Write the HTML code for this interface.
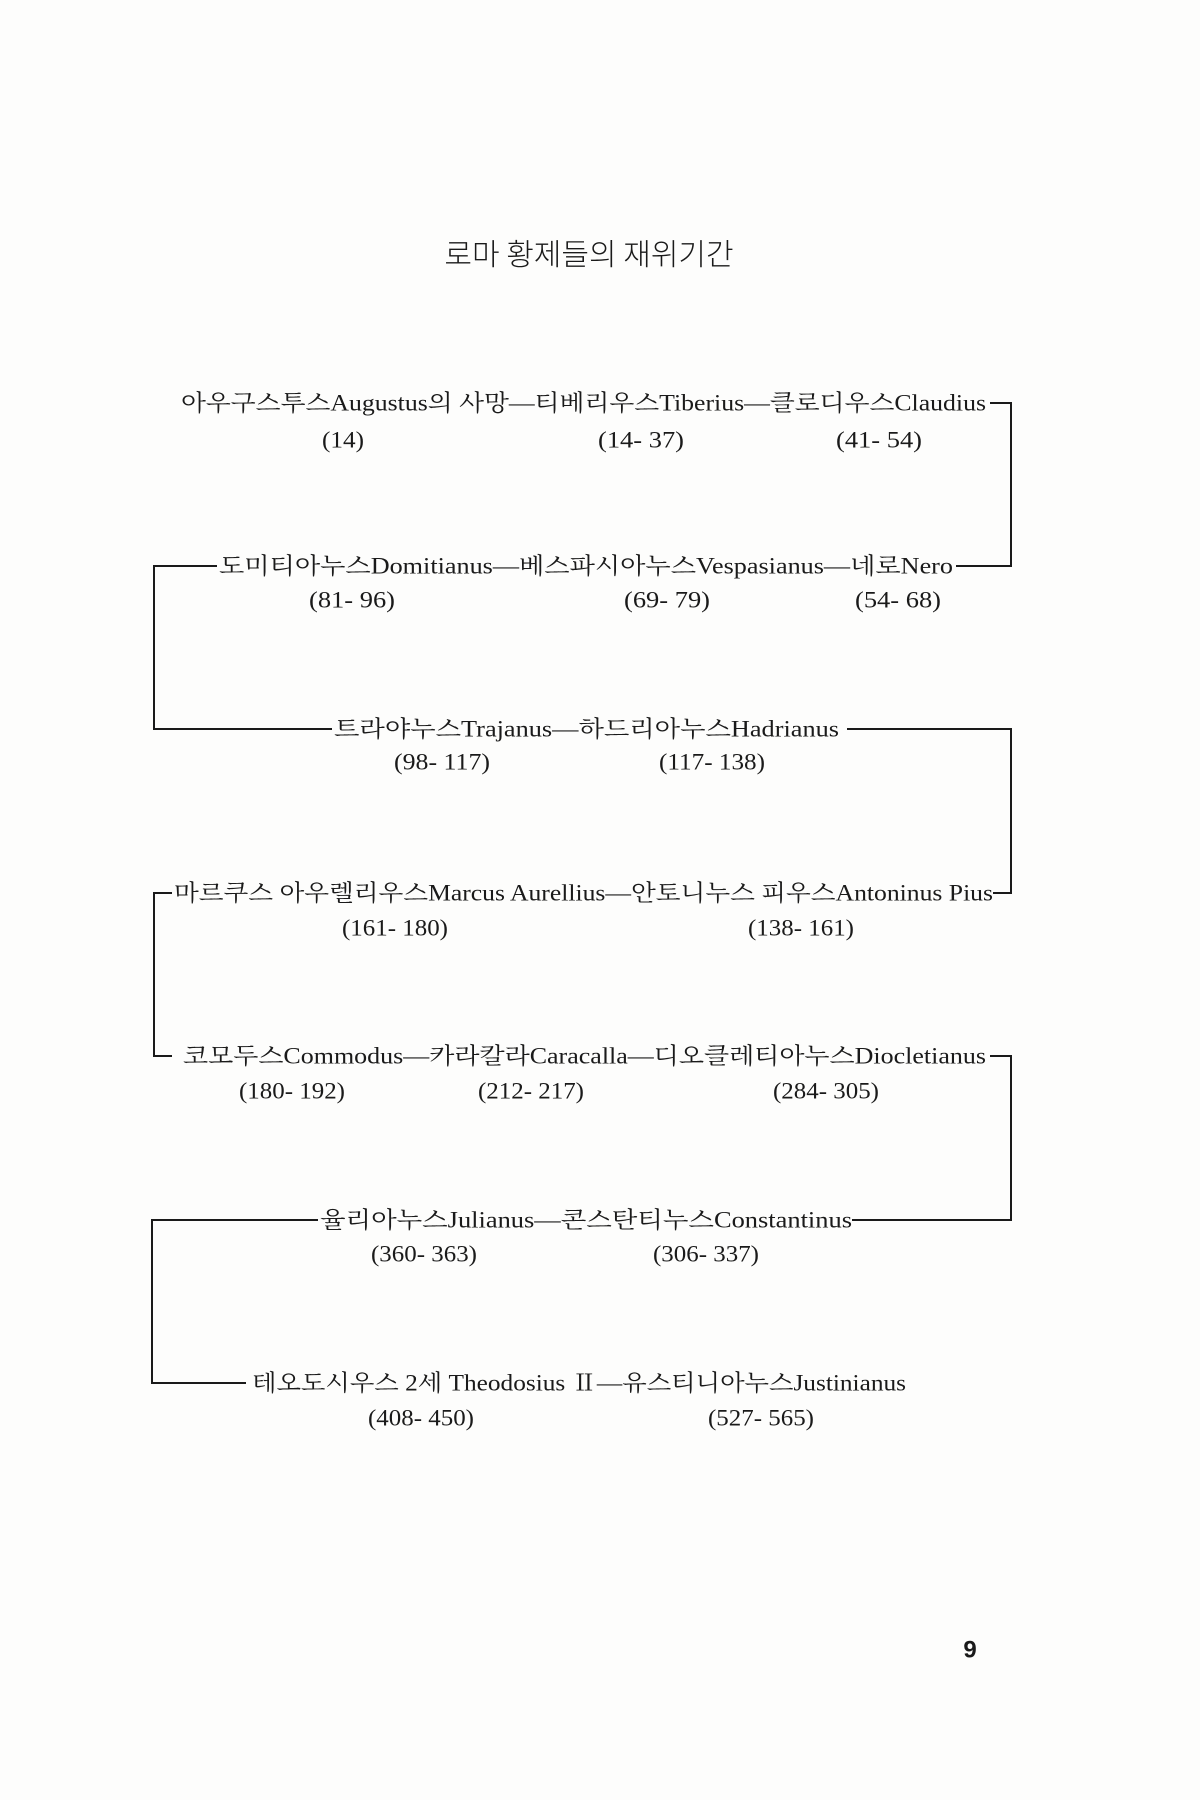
<!DOCTYPE html>
<html><head><meta charset="utf-8"><style>
html,body{margin:0;padding:0;background:#fdfdfc;}
svg{display:block}
text{font-family:"Liberation Serif","Noto Serif CJK SC","Noto Sans CJK KR",serif;fill:#1a1a1a;}
</style></head><body>
<svg width="1200" height="1800" viewBox="0 0 1200 1800" xmlns="http://www.w3.org/2000/svg">
<rect width="1200" height="1800" fill="#fdfdfc"/>
<text x="589" y="252" font-size="30" text-anchor="middle" dominant-baseline="central" style="font-family:'Noto Sans CJK KR',sans-serif;font-weight:300">로마 황제들의 재위기간</text>
<g stroke="#1a1a1a" stroke-width="2" fill="none">
<polyline points="990,403 1011,403 1011,566 956,566"/>
<polyline points="217,566 154,566 154,729 332,729"/>
<polyline points="847,729 1011,729 1011,893 993,893"/>
<polyline points="172,893 154,893 154,1056 172,1056"/>
<polyline points="990,1056 1011,1056 1011,1220 852,1220"/>
<polyline points="318,1220 152,1220 152,1383 246,1383"/>
</g>
<g font-size="23" dominant-baseline="central">
<text x="181" y="403" textLength="805" lengthAdjust="spacingAndGlyphs">아우구스투스Augustus의 사망—티베리우스Tiberius—클로디우스Claudius</text>
<text x="219" y="566" textLength="734" lengthAdjust="spacingAndGlyphs">도미티아누스Domitianus—베스파시아누스Vespasianus—네로Nero</text>
<text x="334" y="729" textLength="505" lengthAdjust="spacingAndGlyphs">트라야누스Trajanus—하드리아누스Hadrianus</text>
<text x="174" y="893" textLength="819" lengthAdjust="spacingAndGlyphs">마르쿠스 아우렐리우스Marcus Aurellius—안토니누스 피우스Antoninus Pius</text>
<text x="183" y="1056" textLength="803" lengthAdjust="spacingAndGlyphs">코모두스Commodus—카라칼라Caracalla—디오클레티아누스Diocletianus</text>
<text x="320" y="1220" textLength="532" lengthAdjust="spacingAndGlyphs">율리아누스Julianus—콘스탄티누스Constantinus</text>
<text x="252" y="1383" textLength="654" lengthAdjust="spacingAndGlyphs">테오도시우스 2세 Theodosius Ⅱ—유스티니아누스Justinianus</text>
</g>
<g font-size="23" dominant-baseline="central" text-anchor="middle">
<text x="343" y="440" textLength="42" lengthAdjust="spacingAndGlyphs">(14)</text>
<text x="641" y="440" textLength="86" lengthAdjust="spacingAndGlyphs">(14- 37)</text>
<text x="879" y="440" textLength="86" lengthAdjust="spacingAndGlyphs">(41- 54)</text>
<text x="352" y="600" textLength="86" lengthAdjust="spacingAndGlyphs">(81- 96)</text>
<text x="667" y="600" textLength="86" lengthAdjust="spacingAndGlyphs">(69- 79)</text>
<text x="898" y="600" textLength="86" lengthAdjust="spacingAndGlyphs">(54- 68)</text>
<text x="442" y="762" textLength="96" lengthAdjust="spacingAndGlyphs">(98- 117)</text>
<text x="712" y="762" textLength="106" lengthAdjust="spacingAndGlyphs">(117- 138)</text>
<text x="395" y="928" textLength="106" lengthAdjust="spacingAndGlyphs">(161- 180)</text>
<text x="801" y="928" textLength="106" lengthAdjust="spacingAndGlyphs">(138- 161)</text>
<text x="292" y="1091" textLength="106" lengthAdjust="spacingAndGlyphs">(180- 192)</text>
<text x="531" y="1091" textLength="106" lengthAdjust="spacingAndGlyphs">(212- 217)</text>
<text x="826" y="1091" textLength="106" lengthAdjust="spacingAndGlyphs">(284- 305)</text>
<text x="424" y="1254" textLength="106" lengthAdjust="spacingAndGlyphs">(360- 363)</text>
<text x="706" y="1254" textLength="106" lengthAdjust="spacingAndGlyphs">(306- 337)</text>
<text x="421" y="1418" textLength="106" lengthAdjust="spacingAndGlyphs">(408- 450)</text>
<text x="761" y="1418" textLength="106" lengthAdjust="spacingAndGlyphs">(527- 565)</text>
</g>
<text x="970" y="1650" font-size="24" font-weight="bold" text-anchor="middle" dominant-baseline="central" style="font-family:'Liberation Sans',sans-serif">9</text>
</svg>
</body></html>
